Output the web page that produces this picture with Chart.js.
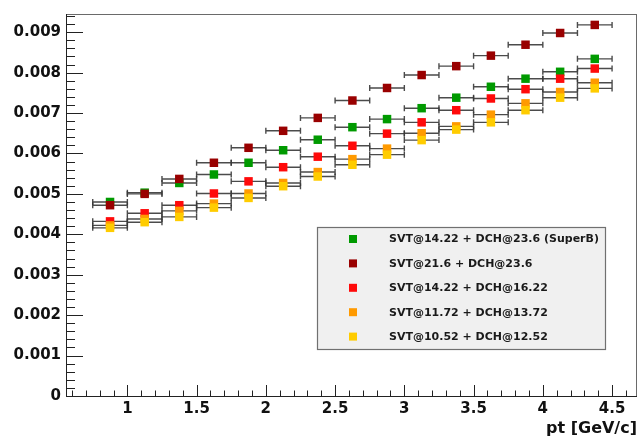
<!DOCTYPE html>
<html>
<head>
<meta charset="utf-8">
<script src="https://cdn.jsdelivr.net/npm/chart.js@4.4.1/dist/chart.umd.min.js"></script>
<style>
  html, body { margin: 0; padding: 0; background: #ffffff; }
  canvas { display: block; }
</style>
</head>
<body>
<canvas id="resolution" width="643" height="439"></canvas>
<script>
// pt bin centres [GeV/c]; each bin is 0.25 wide
const ptBins = [0.875, 1.125, 1.375, 1.625, 1.875, 2.125, 2.375, 2.625, 2.875, 3.125, 3.375, 3.625, 3.875, 4.125, 4.375];
const binHalfWidth = 0.125;

// resolution per detector configuration
const svt1422dch236 = [0.00480, 0.00503, 0.00527, 0.00548, 0.00577, 0.00608, 0.00634, 0.00665, 0.00685, 0.00712, 0.00738, 0.00765, 0.00785, 0.00802, 0.00834];
const svt216dch236  = [0.00472, 0.00500, 0.00537, 0.00577, 0.00614, 0.00656, 0.00688, 0.00731, 0.00762, 0.00794, 0.00816, 0.00842, 0.00869, 0.00898, 0.00918];
const svt1422dch1622 = [0.00432, 0.00452, 0.00472, 0.00501, 0.00531, 0.00566, 0.00592, 0.00619, 0.00649, 0.00677, 0.00707, 0.00736, 0.00759, 0.00785, 0.00810];
const svt1172dch1372 = [0.00422, 0.00438, 0.00458, 0.00476, 0.00501, 0.00527, 0.00554, 0.00586, 0.00612, 0.00650, 0.00667, 0.00696, 0.00724, 0.00752, 0.00775];
const svt1052dch1252 = [0.00416, 0.00430, 0.00443, 0.00466, 0.00490, 0.00519, 0.00543, 0.00572, 0.00597, 0.00633, 0.00659, 0.00677, 0.00707, 0.00738, 0.00761];

const seriesNames = [
  'SVT@14.22 + DCH@23.6 (SuperB)',
  'SVT@21.6 + DCH@23.6',
  'SVT@14.22 + DCH@16.22',
  'SVT@11.72 + DCH@13.72',
  'SVT@10.52 + DCH@12.52'
];
const seriesValues = [svt1422dch236, svt216dch236, svt1422dch1622, svt1172dch1372, svt1052dch1252];
const seriesColors = ['#009a00', '#990000', '#ff0a0a', '#ff9a00', '#ffcc00'];

// axis ticks
const xTickValues = [1, 1.5, 2, 2.5, 3, 3.5, 4, 4.5];
const yTickValues = [0, 0.001, 0.002, 0.003, 0.004, 0.005, 0.006, 0.007, 0.008, 0.009];

const FONT = '"DejaVu Sans", "Liberation Sans", Arial, sans-serif';

const datasets = seriesValues.map((vals, i) => ({
  label: seriesNames[i],
  data: ptBins.map((x, j) => ({ x: x, y: vals[j] })),
  backgroundColor: seriesColors[i],
  borderColor: seriesColors[i],
  borderWidth: 0,
  pointStyle: 'rect',
  pointRadius: 6,
  pointHoverRadius: 6,
  showLine: false,
  order: seriesValues.length - 1 - i   // later series are drawn on top
}));

// horizontal bin-width error bars with end caps
const binErrorBars = {
  id: 'binErrorBars',
  beforeDatasetsDraw(chart) {
    const { ctx, scales: { x, y } } = chart;
    ctx.save();
    ctx.strokeStyle = 'rgba(55,55,55,0.9)';
    ctx.lineWidth = 1.4;
    chart.data.datasets.forEach(ds => {
      ds.data.forEach(p => {
        const x0 = x.getPixelForValue(p.x - binHalfWidth);
        const x1 = x.getPixelForValue(p.x + binHalfWidth);
        const py = y.getPixelForValue(p.y);
        ctx.beginPath();
        ctx.moveTo(x0, py); ctx.lineTo(x1, py);
        ctx.moveTo(x0, py - 3); ctx.lineTo(x0, py + 3);
        ctx.moveTo(x1, py - 3); ctx.lineTo(x1, py + 3);
        ctx.stroke();
      });
    });
    ctx.restore();
  }
};

// frame around the plot area with inward major/minor ticks
const frameTicks = {
  id: 'frameTicks',
  afterDraw(chart) {
    const { ctx, chartArea: a, scales: { x, y } } = chart;
    ctx.save();
    ctx.strokeStyle = '#6a6a6a';
    ctx.lineWidth = 1;
    ctx.strokeRect(a.left + 0.5, a.top + 0.5, a.right - a.left - 1, a.bottom - a.top);
    ctx.strokeStyle = '#222';
    ctx.beginPath();
    ctx.moveTo(a.left + 0.5, a.top); ctx.lineTo(a.left + 0.5, a.bottom + 0.5);
    ctx.lineTo(a.right, a.bottom + 0.5);
    ctx.stroke();
    ctx.beginPath();
    for (let i = 0; i * 0.0002 <= y.max + 1e-12; i++) {
      const py = Math.round(y.getPixelForValue(i * 0.0002)) + 0.5;
      const len = (i % 5 === 0) ? 17 : 9;
      ctx.moveTo(a.left, py); ctx.lineTo(a.left + len, py);
    }
    for (let i = Math.ceil(x.min * 10); i <= Math.floor(x.max * 10); i++) {
      const px = Math.round(x.getPixelForValue(i / 10)) + 0.5;
      const len = (i % 5 === 0) ? 11 : 5.5;
      ctx.moveTo(px, a.bottom); ctx.lineTo(px, a.bottom - len);
    }
    ctx.stroke();
    ctx.restore();
  }
};

// boxed legend inside the plot area
const boxLegend = {
  id: 'boxLegend',
  afterDraw(chart) {
    const { ctx } = chart;
    const bx = 317, by = 227, bw = 288, bh = 122;
    ctx.save();
    ctx.fillStyle = '#f0f0f0';
    ctx.fillRect(bx, by, bw, bh);
    ctx.strokeStyle = '#707070';
    ctx.lineWidth = 1.2;
    ctx.strokeRect(bx + 0.5, by + 0.5, bw, bh);
    ctx.font = 'bold 11px ' + FONT;
    ctx.textBaseline = 'middle';
    ctx.textAlign = 'left';
    chart.data.datasets.forEach((ds, i) => {
      const cy = by + 12 + i * 24.4;
      ctx.fillStyle = ds.backgroundColor;
      ctx.fillRect(349, cy - 4, 8, 8);
      ctx.fillStyle = '#1a1a1a';
      ctx.fillText(ds.label, 389, cy + 0.5);
    });
    ctx.restore();
  }
};

new Chart(document.getElementById('resolution'), {
  type: 'scatter',
  data: { datasets: datasets },
  plugins: [binErrorBars, frameTicks, boxLegend],
  options: {
    responsive: false,
    animation: false,
    events: [],
    layout: { padding: { left: 0, top: 9, right: 3, bottom: 0 } },
    plugins: {
      legend: { display: false },
      tooltip: { enabled: false }
    },
    scales: {
      x: {
        type: 'linear',
        min: 0.557,
        max: 4.68,
        grid: { display: false, drawTicks: false },
        border: { display: false },
        afterBuildTicks(scale) { scale.ticks = xTickValues.map(v => ({ value: v })); },
        afterFit(scale) { scale.height = 43; },
        ticks: {
          color: '#111',
          font: { family: FONT, size: 15, weight: 'bold' },
          padding: 4,
          maxRotation: 0,
          autoSkip: false,
          callback: v => String(v)
        },
        title: {
          display: true,
          text: 'pt [GeV/c]',
          align: 'end',
          color: '#111',
          font: { family: FONT, size: 16, weight: 'bold' },
          padding: { top: 0, bottom: 1 }
        }
      },
      y: {
        type: 'linear',
        min: 0,
        max: 0.00945,
        grid: { display: false, drawTicks: false },
        border: { display: false },
        afterBuildTicks(scale) { scale.ticks = yTickValues.map(v => ({ value: v })); },
        afterFit(scale) { scale.width = 66; },
        ticks: {
          color: '#111',
          font: { family: FONT, size: 15, weight: 'bold' },
          padding: 5,
          autoSkip: false,
          callback: v => (v === 0 ? '0' : v.toFixed(3))
        }
      }
    }
  }
});
</script>
</body>
</html>
